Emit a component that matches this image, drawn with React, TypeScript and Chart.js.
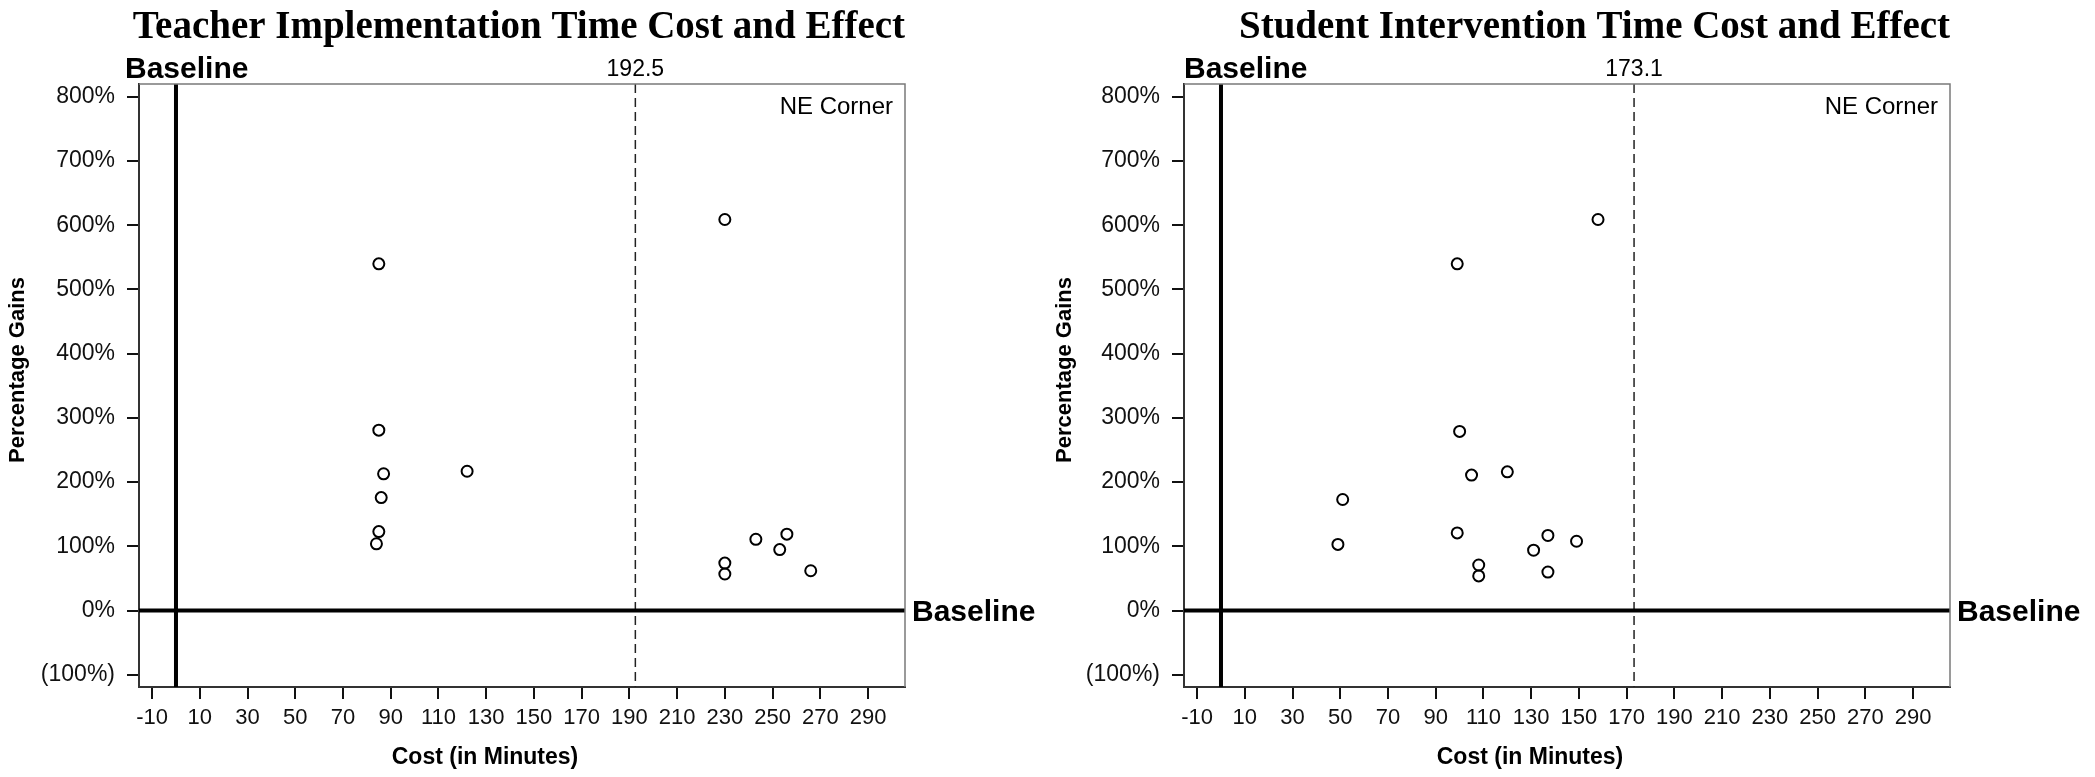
import { useEffect, useRef } from "react"
import Chart from "chart.js/auto"

// x ticks every 20 minutes starting at -10, y ticks every 100%
const xTicks = [-10, 10, 30, 50, 70, 90, 110, 130, 150, 170, 190, 210, 230, 250, 270, 290]
const yTicks = [-100, 0, 100, 200, 300, 400, 500, 600, 700, 800]

const teacherCost = [85, 230, 85, 87, 122, 86, 85, 84, 243, 256, 253, 266, 230, 230]
const teacherGain = [540, 609, 281, 213, 217, 176, 123, 104, 111, 119, 95, 62, 74, 57]
const studentCost = [99, 158, 100, 105, 120, 51, 49, 99, 137, 149, 131, 137, 108, 108]
const studentGain = [540, 609, 279, 211, 216, 173, 103, 121, 117, 108, 94, 60, 71, 54]

const teacherMean = 192.5
const studentMean = 173.1
const baseCost = 0
const baseGain = 0

const SANS = "'Liberation Sans', Arial, sans-serif"
const SERIF = "'Liberation Serif', 'Times New Roman', serif"

type Opts = {
  title: string
  mean: number
  meanLabel: string
  baseLabelX: number
}

const overlay = {
  id: "overlay",
  beforeDatasetsDraw(chart: any, _args: any, opts: Opts) {
    const { ctx, chartArea: a, scales } = chart
    const mx = scales.x.getPixelForValue(opts.mean)
    const bx = scales.x.getPixelForValue(baseCost)
    const by = scales.y.getPixelForValue(baseGain)
    ctx.save()
    ctx.strokeStyle = "#222"
    ctx.lineWidth = 1.5
    ctx.setLineDash([9, 5])
    ctx.beginPath()
    ctx.moveTo(mx, a.top)
    ctx.lineTo(mx, a.bottom)
    ctx.stroke()
    ctx.setLineDash([])
    ctx.strokeStyle = "#000"
    ctx.lineWidth = 4
    ctx.beginPath()
    ctx.moveTo(bx, a.top)
    ctx.lineTo(bx, a.bottom)
    ctx.moveTo(a.left, by)
    ctx.lineTo(a.right, by)
    ctx.stroke()
    ctx.restore()
  },
  afterDraw(chart: any, _args: any, opts: Opts) {
    const { ctx, chartArea: a, scales } = chart
    const mx = scales.x.getPixelForValue(opts.mean)
    const by = scales.y.getPixelForValue(baseGain)
    ctx.save()
    // top/right frame
    ctx.strokeStyle = "#7a7a7a"
    ctx.lineWidth = 1.5
    ctx.beginPath()
    ctx.moveTo(a.left, a.top)
    ctx.lineTo(a.right, a.top)
    ctx.lineTo(a.right, a.bottom)
    ctx.stroke()

    ctx.fillStyle = "#000"
    ctx.textBaseline = "middle"
    ctx.font = `bold 39px ${SERIF}`
    ctx.textAlign = "right"
    ctx.fillText(opts.title, a.right, 28)

    ctx.font = `bold 30px ${SANS}`
    ctx.textAlign = "left"
    ctx.fillText("Baseline", opts.baseLabelX, 70)
    ctx.fillText("Baseline", a.right + 7, by + 2)

    ctx.font = `23px ${SANS}`
    ctx.textAlign = "center"
    ctx.fillText(opts.meanLabel, mx, 70)

    ctx.font = `24px ${SANS}`
    ctx.textAlign = "right"
    ctx.fillText("NE Corner", a.right - 12, 107)

    ctx.font = `bold 23px ${SANS}`
    ctx.textAlign = "center"
    ctx.fillText("Cost (in Minutes)", a.left + 346, 758)

    ctx.translate(18, 370)
    ctx.rotate(-Math.PI / 2)
    ctx.font = `bold 22px ${SANS}`
    ctx.fillText("Percentage Gains", 0, 0)
    ctx.restore()
  },
}

function CostChart({
  width,
  axisWidth,
  cost,
  gain,
  opts,
}: {
  width: number
  axisWidth: number
  cost: number[]
  gain: number[]
  opts: Opts
}) {
  const ref = useRef<HTMLCanvasElement>(null)

  useEffect(() => {
    if (!ref.current) return
    const plotRight = axisWidth + 766
    const chart = new Chart(ref.current, {
      type: "scatter",
      data: {
        datasets: [
          {
            data: cost.map((c, i) => ({ x: c, y: gain[i] })),
            pointStyle: "circle",
            pointRadius: 5.5,
            pointBorderWidth: 2,
            borderColor: "#000",
            backgroundColor: "rgba(0,0,0,0)",
          },
        ],
      },
      options: {
        responsive: false,
        animation: false,
        devicePixelRatio: 1,
        layout: { padding: { top: 84, right: width - plotRight, left: 0, bottom: 0 } },
        plugins: {
          legend: { display: false },
          tooltip: { enabled: false },
          overlay: opts,
        } as any,
        scales: {
          x: {
            type: "linear",
            min: -15.5,
            max: 305.5,
            afterFit: (s: any) => {
              s.height = 90
            },
            afterBuildTicks: (s: any) => {
              s.ticks = xTicks.map((v) => ({ value: v }))
            },
            ticks: {
              color: "#111",
              font: { family: SANS, size: 22 },
              padding: 6,
              maxRotation: 0,
              autoSkip: false,
            },
            grid: { drawOnChartArea: false, drawTicks: true, tickLength: 12, color: "#111", lineWidth: 2 },
            border: { color: "#333", width: 2 },
          },
          y: {
            type: "linear",
            min: -119,
            max: 820,
            afterFit: (s: any) => {
              s.width = axisWidth
            },
            afterBuildTicks: (s: any) => {
              s.ticks = yTicks.map((v) => ({ value: v }))
            },
            ticks: {
              color: "#111",
              font: { family: SANS, size: 23 },
              padding: 12,
              callback: (v: any) => (v < 0 ? `(${-v}%)` : `${v}%`),
            },
            grid: { drawOnChartArea: false, drawTicks: true, tickLength: 12, color: "#111", lineWidth: 2 },
            border: { color: "#333", width: 2 },
          },
        },
      },
      plugins: [overlay],
    })
    return () => chart.destroy()
  }, [width, axisWidth, cost, gain, opts])

  return <canvas ref={ref} width={width} height={777} style={{ display: "block", width, height: 777 }} />
}

const teacherOpts: Opts = {
  title: "Teacher Implementation Time Cost and Effect",
  mean: teacherMean,
  meanLabel: "192.5",
  baseLabelX: 125,
}
const studentOpts: Opts = {
  title: "Student Intervention Time Cost and Effect",
  mean: studentMean,
  meanLabel: "173.1",
  baseLabelX: 137,
}

export default function App() {
  return (
    <div style={{ position: "absolute", left: 0, top: 0, width: 2095, height: 777, display: "flex", background: "#fff" }}>
      <CostChart width={1047} axisWidth={139} cost={teacherCost} gain={teacherGain} opts={teacherOpts} />
      <CostChart width={1048} axisWidth={137} cost={studentCost} gain={studentGain} opts={studentOpts} />
    </div>
  )
}
